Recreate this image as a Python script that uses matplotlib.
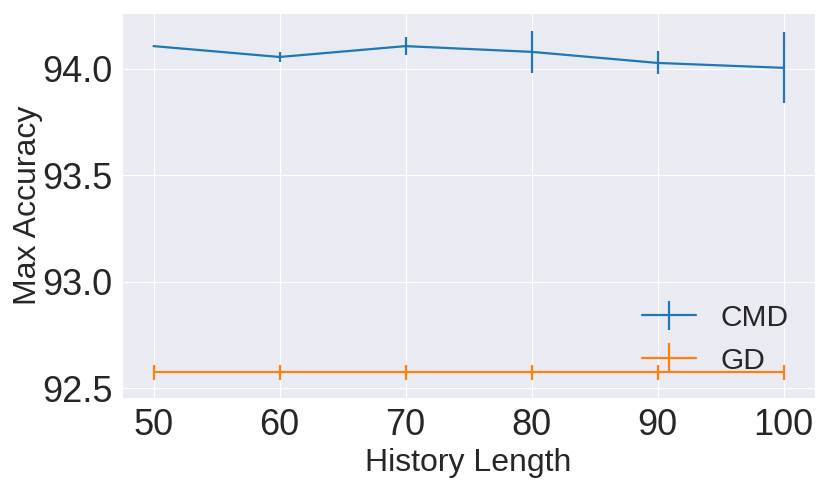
import matplotlib
matplotlib.use("Agg")
import matplotlib.pyplot as plt
import seaborn as sns

history = [50, 60, 70, 80, 90, 100]
cmd_mean = [94.107, 94.056, 94.107, 94.080, 94.028, 94.005]
cmd_err = [0.0, 0.023, 0.042, 0.100, 0.054, 0.166]
gd_mean = [92.575, 92.575, 92.575, 92.575, 92.575, 92.575]
gd_err = [0.037, 0.037, 0.037, 0.037, 0.037, 0.037]

sns.set_style("darkgrid")
plt.rcParams['font.family'] = ['Liberation Sans', 'DejaVu Sans']

fig = plt.figure(figsize=(8.3, 4.84), dpi=100)
ax = fig.add_axes([0.147, 0.178, 0.835, 0.795])
ax.errorbar(history, cmd_mean, yerr=cmd_err, label="CMD", color="#1f77b4", lw=1.6)
ax.errorbar(history, gd_mean, yerr=gd_err, label="GD", color="#ff7f0e", lw=1.6)
ax.set_xlabel("History Length", fontsize=23)
ax.set_ylabel("Max Accuracy", fontsize=23, labelpad=-1)
ax.tick_params(axis='both', labelsize=26)
ax.set_xticks(history)
ax.set_yticks([92.5, 93.0, 93.5, 94.0])
ax.legend(loc="lower right", fontsize=21.5, frameon=False, handlelength=1.8,
          bbox_to_anchor=(1.0, -0.01))
fig.savefig("out.png", dpi=100)
